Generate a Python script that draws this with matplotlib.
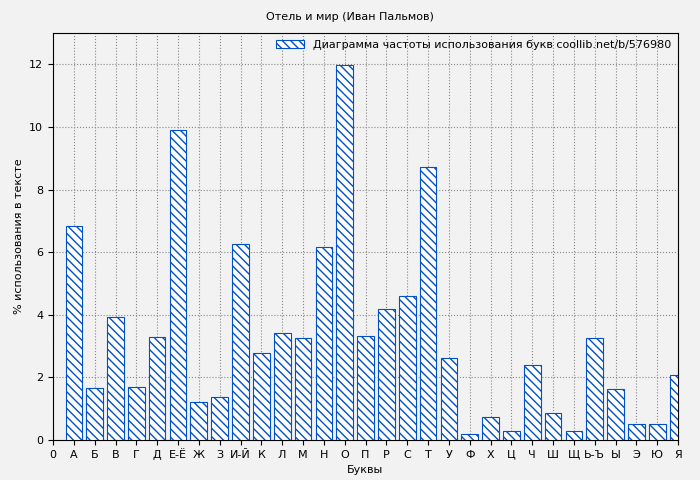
import matplotlib
matplotlib.use("Agg")
import matplotlib.pyplot as plt

labels = ["0","А","Б","В","Г","Д","Е-Ё","Ж","З","И-Й","К","Л","М","Н","О","П","Р","С","Т","У","Ф","Х","Ц","Ч","Ш","Щ","Ь-Ъ","Ы","Э","Ю","Я"]
values = [6.85,1.65,3.92,1.68,3.3,9.9,1.2,1.37,6.25,2.77,3.42,3.25,6.15,11.98,3.32,4.18,4.6,8.72,2.63,0.18,0.75,0.3,2.38,0.85,0.3,3.25,1.62,0.5,0.5,2.07]

fig = plt.figure(figsize=(7,4.8), dpi=100, facecolor="#f2f2f2")
ax = fig.add_axes([53/700, 40/480, 625/700, 407/480])
ax.set_facecolor("#f2f2f2")
pos = list(range(1, len(values)+1))
ax.bar(pos, values, width=0.8, facecolor="white", edgecolor="#0050c8", hatch="\\\\\\\\", linewidth=0.8,
       label="Диаграмма частоты использования букв coollib.net/b/576980", zorder=3)
ax.set_xlim(0, 30)
ax.set_ylim(0, 13)
ax.set_xticks(range(len(labels)))
ax.set_xticklabels(labels, fontsize=8)
ax.set_yticks([0,2,4,6,8,10,12])
ax.tick_params(labelsize=8)
ax.grid(True, linestyle=":", color="#888888", linewidth=0.8, zorder=0)
ax.set_xlabel("Буквы", fontsize=8)
ax.set_ylabel("% использования в тексте", fontsize=8)
fig.suptitle("Отель и мир (Иван Пальмов)", fontsize=8, y=0.975)
ax.legend(loc="upper right", fontsize=8, frameon=False, handlelength=2.5, borderaxespad=0.2)
fig.savefig("out.png", dpi=100, facecolor=fig.get_facecolor())
